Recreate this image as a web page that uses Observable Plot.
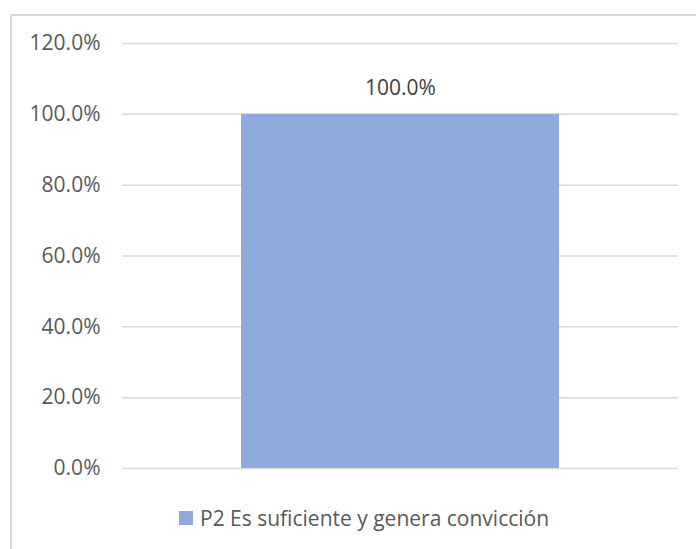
<!DOCTYPE html>
<html>
<head>
<meta charset="utf-8">
<script src="https://cdn.jsdelivr.net/npm/d3@7"></script>
<script src="https://cdn.jsdelivr.net/npm/@observablehq/plot@0.6"></script>
<style>
  html, body { margin: 0; padding: 0; background: #fff; }
  body { width: 696px; height: 549px; position: relative; overflow: hidden; font-family: "Open Sans", sans-serif; }
  #frame { position: absolute; left: 10px; top: 14px; width: 700px; height: 560px;
           border-left: 2px solid #d9d9d9; border-top: 2px solid #d9d9d9; }
  #chart { position: absolute; left: 0; top: 0; }
  #legend { position: absolute; left: 0; top: 504px; width: 696px; text-align: left; }
  #legend .item { position: absolute; left: 179px; top: 0; display: flex; align-items: center; white-space: nowrap;
                  font-size: 21px; color: #595959; }
  #legend .sw { width: 14px; height: 14px; background: #8faadc; margin-right: 7px; }
</style>
</head>
<body>
<div id="frame"></div>
<div id="chart"></div>
<div id="legend"></div>
<script>
const categories = ["P2 Es suficiente y genera convicción"];
const values = [1.0];
const yTicks = [0, 0.2, 0.4, 0.6, 0.8, 1.0, 1.2];
const seriesName = "P2 Es suficiente y genera convicción";
const barColor = "#8faadc";

const data = categories.map((c, i) => ({category: c, value: values[i]}));
const fmt = d => (d * 100).toFixed(1) + "%";

const chart = Plot.plot({
  width: 696,
  height: 490,
  marginLeft: 122,
  marginRight: 18,
  marginTop: 43,
  marginBottom: 22,
  style: {fontFamily: "Open Sans, sans-serif", fontSize: "21px", color: "#595959", background: "transparent"},
  x: {domain: categories, padding: 0.272, axis: null},
  y: {domain: [0, 1.2], ticks: yTicks, tickFormat: fmt, label: null},
  marks: [
    Plot.gridY(yTicks, {stroke: "#d9d9d9", strokeOpacity: 1, strokeWidth: 1.5}),
    Plot.barY(data, {x: "category", y: "value", fill: barColor}),
    Plot.text(data, {x: "category", y: "value", text: d => fmt(d.value), dy: -26, fill: "#404040", fontSize: 21}),
    Plot.axisY(yTicks, {tickSize: 0, tickPadding: 22, tickFormat: fmt, label: null, fill: "#595959", fontSize: 21})
  ]
});
document.getElementById("chart").appendChild(chart);

document.getElementById("legend").innerHTML =
  `<div class="item"><span class="sw"></span><span>${seriesName}</span></div>`;
</script>
</body>
</html>
